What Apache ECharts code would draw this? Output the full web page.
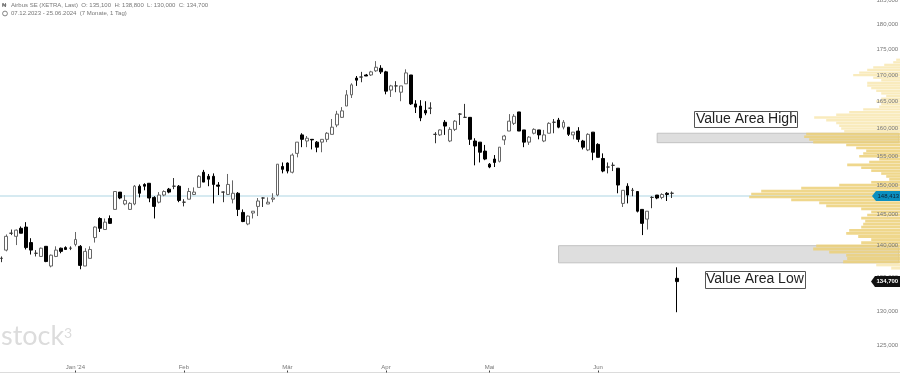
<!DOCTYPE html>
<html><head><meta charset="utf-8">
<style>html,body{margin:0;padding:0;background:#fff}#c{width:900px;height:374px}</style>
<script src="https://cdn.jsdelivr.net/npm/echarts@6/dist/echarts.min.js"></script>
</head><body><div id="c"></div>
<script>
const opens=[138.0,139.3,142.0,141.5,142.8,143.0,140.5,138.8,138.3,139.9,136.8,138.3,139.6,139.7,139.6,140.2,139.9,136.8,138.0,141.3,144.4,142.6,144.4,145.9,148.8,146.8,145.9,146.8,149.8,150.1,150.3,147.9,147.1,148.3,149.3,149.8,149.8,147.1,147.6,148.4,149.6,152.2,151.5,151.5,150.0,148.8,148.4,147.6,148.6,145.4,143.5,145.3,146.4,147.8,146.8,147.6,148.3,153.2,153.8,152.2,155.5,158.8,157.7,158.0,157.5,157.5,158.0,158.9,160.6,162.0,164.1,166.2,169.4,169.6,170.0,170.0,170.8,171.3,170.6,167.1,167.9,166.7,168.3,170.0,164.5,164.1,163.3,163.7,158.9,158.8,161.1,157.7,159.8,162.6,162.0,162.0,157.7,157.5,155.9,153.6,154.5,154.1,157.9,159.5,160.9,163.0,159.7,157.5,159.1,159.7,157.7,159.1,161.1,161.5,160.2,160.2,158.8,159.5,157.7,156.1,159.3,157.1,154.6,153.1,153.4,152.9,146.9,149.8,149.1,148.9,145.9,144.3,147.9,148.3,147.9,148.6,148.6,134.9];
const closes=[138.0,141.5,142.0,142.5,142.0,139.7,139.3,138.8,139.6,137.5,138.5,139.3,139.1,139.4,139.6,141.0,136.9,139.1,139.4,143.0,142.8,143.8,143.6,148.9,147.8,147.4,146.9,149.8,148.6,149.8,147.8,146.4,148.3,148.9,148.8,149.8,147.4,147.1,148.9,148.8,151.5,150.5,151.0,150.1,149.8,148.8,150.1,148.6,145.9,143.9,144.8,145.6,147.3,147.8,147.1,147.8,153.6,152.7,152.4,155.2,157.5,158.0,158.2,157.9,156.6,158.0,159.1,160.2,162.6,163.2,166.2,168.1,169.0,169.6,169.8,170.6,171.5,170.6,166.9,167.9,167.9,167.9,170.4,164.5,163.9,161.9,162.8,163.7,158.9,159.7,160.4,159.8,161.3,162.6,162.0,158.0,156.8,155.7,154.5,153.1,153.9,156.6,158.6,161.3,162.2,159.5,157.5,158.4,159.8,158.8,158.8,160.9,161.1,160.2,161.1,158.9,159.3,158.0,156.6,158.9,155.7,154.8,152.4,153.1,153.4,150.0,149.1,148.3,149.1,145.6,143.6,145.6,147.9,147.8,148.4,148.4,148.6,134.4];
const lows=[137.4,139.1,141.7,140.1,142.0,139.4,138.6,138.3,138.3,137.4,136.6,138.2,138.8,139.4,139.3,139.9,136.3,136.8,138.0,140.5,142.2,142.6,143.5,145.9,147.6,146.6,145.8,146.6,147.9,149.1,147.1,144.4,146.9,148.1,148.6,149.3,147.1,146.4,147.6,148.3,149.6,150.5,149.8,146.9,148.3,147.1,148.3,146.9,144.8,143.8,143.3,144.4,144.8,146.3,146.8,147.1,148.1,152.0,152.0,152.0,154.8,156.6,156.6,156.2,155.7,155.7,157.5,158.9,160.2,161.9,164.1,165.6,167.9,168.6,169.8,169.8,170.6,170.2,166.3,165.8,166.7,165.0,168.3,164.3,162.8,161.3,162.4,162.6,157.3,158.6,158.8,157.5,159.5,160.6,161.9,157.0,153.4,153.9,154.3,152.9,153.1,153.9,157.0,159.5,160.6,159.5,156.6,157.0,158.9,158.0,157.5,159.1,159.1,160.0,159.8,158.6,158.0,157.5,156.2,155.9,154.3,154.8,152.2,152.0,152.4,148.6,146.3,146.9,148.1,145.4,141.7,142.6,146.1,147.6,147.6,147.3,147.8,129.8];
const highs=[138.3,141.8,142.6,142.6,143.1,143.8,141.2,139.3,139.7,139.9,138.6,139.9,139.7,139.9,139.9,142.2,140.1,139.6,139.9,143.1,144.6,144.4,144.9,148.9,148.8,148.3,147.1,150.0,150.1,150.3,150.3,148.1,148.8,149.1,149.5,151.2,150.0,147.6,149.5,149.6,151.7,152.6,151.9,152.0,150.5,148.9,151.9,150.8,148.8,145.9,144.9,145.6,147.8,147.9,147.9,148.6,153.6,153.9,153.9,155.5,157.5,159.1,158.6,158.0,157.7,158.0,159.3,161.7,163.2,163.9,167.1,168.4,169.8,170.6,170.2,170.8,172.7,171.9,170.8,168.1,168.8,167.9,171.1,170.0,165.2,165.2,165.0,164.8,159.3,159.8,161.5,160.2,161.5,162.8,164.5,162.0,158.2,157.5,157.0,153.8,155.2,156.6,158.8,162.6,162.6,163.0,159.7,158.6,160.0,159.7,159.7,161.1,161.7,161.9,161.5,160.2,159.3,160.2,157.9,159.1,159.3,157.3,155.5,153.9,153.9,152.9,149.1,150.3,149.5,148.9,145.9,145.6,148.1,148.3,148.6,148.8,148.9,136.6];

const profileLevels=[173,172.5,172,171.5,171,170.5,170,169.5,169,168.5,168,167.5,167,166.5,166,165.5,165,164.5,164,163.5,163,162.5,162,161.5,161,160.5,160,159.5,159,158.5,158,157.5,157,156.5,156,155.5,155,154.5,154,153.5,153,152.5,152,151.5,151,150.5,150,149.5,149,148.5,148,147.5,147,146.5,146,145.5,145,144.5,144,143.5,143,142.5,142,141.5,141,140.5,140,139.5,139,138.5,138,137.5,137,136.5];
const profileVolumes=[5,8,17,28,34,42,48,28,20,34,34,30,25,20,15,20,25,20,22,38,52,65,87,75,65,62,60,57,95,97,92,88,55,45,35,38,42,22,32,54,40,30,20,15,12,30,62,100,140,150,152,110,82,75,40,30,34,40,36,38,40,52,55,43,30,40,85,88,72,55,54,58,25,10];

const priceTicks=[125,130,135,140,145,150,155,160,165,170,175,180,185];
const monthTicks={15:"Jan '24",37:"Feb",58:"Mär",78:"Apr",99:"Mai",121:"Jun"};
const categoryCount=183;
const categories=Array.from({length:categoryCount},(_,i)=>"T"+i);
const lastMarker=148.15;
const valueAreaHigh=[157.4,159.1];
const valueAreaLow=[137.3,140.0];
const valueArea=[137.3,159.2];
const candles=opens.map((o,i)=>[o,closes[i],lows[i],highs[i]]);

const FONT='"Liberation Sans",Arial,sans-serif';
const chart=echarts.init(document.getElementById('c'),null,{renderer:'canvas'});
const GW=902.2;
const fmt=v=>Number(v).toFixed(3).replace('.',',');
chart.setOption({
 animation:false,
 grid:{left:-1,top:0,width:GW,height:372.5,outerBoundsMode:'none',containLabel:false},
 xAxis:[{type:'category',data:categories,
   axisLine:{show:true,lineStyle:{color:'#dcdcdc'}},
   axisTick:{show:true,alignWithLabel:true,inside:true,length:2,interval:i=>i in monthTicks,lineStyle:{color:'#444'}},
   axisLabel:{inside:true,margin:2.5,fontSize:6,fontFamily:FONT,color:'#777',interval:i=>i in monthTicks,formatter:(v,i)=>monthTicks[i]||''},
   splitLine:{show:false}},
  {type:'value',inverse:true,min:0,max:GW,show:false}],
 yAxis:[{type:'log',min:121.2,max:185.13,position:'right',z:10,
   axisLine:{show:false},axisTick:{show:false},splitLine:{show:false},
   axisLabel:{inside:true,margin:3,fontSize:6,fontFamily:FONT,color:'#777',customValues:priceTicks,formatter:v=>fmt(v)}}],
 series:[
  {type:'custom',name:'Volumenprofil',xAxisIndex:1,yAxisIndex:0,z:5,silent:true,clip:false,
   data:profileLevels.map((l,i)=>[profileVolumes[i],l]),encode:{x:0,y:1},
   renderItem:(p,api)=>{
     const v=api.value(0),l=api.value(1);
     const a=api.coord([0,l+0.25]),b=api.coord([v,l-0.25]);
     const inVA=l>=valueArea[0]&&l<=valueArea[1];
     return {type:'rect',shape:{x:b[0],y:a[1]+0.3,width:a[0]-b[0],height:b[1]-a[1]-0.3},
       style:{fill:inVA?'rgba(236,208,120,0.85)':'rgba(248,232,178,0.85)'}};
   }},
  {type:'candlestick',name:'Airbus SE',data:candles,barWidth:3.3,z:6,
   itemStyle:{color:'#fff',color0:'#000',borderColor:'#666',borderColor0:'#000',borderColorDoji:'#333',borderWidth:1},
   markArea:{silent:true,z:1,itemStyle:{color:'#dedede',borderColor:'#c2c2c2',borderWidth:1},
     data:[[{xAxis:categories[133],yAxis:valueAreaHigh[1]},{xAxis:categories[182],yAxis:valueAreaHigh[0]}],
           [{xAxis:categories[113],yAxis:valueAreaLow[1]},{xAxis:categories[182],yAxis:valueAreaLow[0]}]]},
   markLine:{silent:true,symbol:'none',label:{show:false},lineStyle:{color:'#c8e3ec',type:'solid',width:1.5},data:[{yAxis:lastMarker}]}}
 ],
 graphic:[
  {type:'text',z:100,style:{x:11,y:2.5,text:'Airbus SE (XETRA, Last)  O: 135,100  H: 138,800  L: 130,000  C: 134,700',font:'6px '+FONT,fill:'#777'}},
  {type:'text',z:100,style:{x:11,y:10.5,text:'07.12.2023 - 25.06.2024  (7 Monate, 1 Tag)',font:'6px '+FONT,fill:'#777'}},
  {type:'text',z:100,style:{x:2,y:2,text:'₦',font:'bold 6px '+FONT,fill:'#666'}},
  {type:'circle',z:100,shape:{cx:5,cy:13.5,r:2.4},style:{fill:'none',stroke:'#666',lineWidth:0.8}},
  {type:'text',z:1,style:{x:1,y:323,text:'stock',font:'27px Lato,"Open Sans",sans-serif',fill:'#dcdcdc'}},
  {type:'text',z:1,style:{x:64,y:326,text:'3',font:'14px Lato,"Open Sans",sans-serif',fill:'#dcdcdc'}},
  {type:'rect',z:100,shape:{x:694.5,y:111.5,width:103,height:16},style:{fill:'#fff',stroke:'#555',lineWidth:1}},
  {type:'text',z:101,style:{x:696,y:112,text:'Value Area High',font:'14px '+FONT,fill:'#222'}},
  {type:'rect',z:100,shape:{x:705.5,y:271.5,width:100,height:17},style:{fill:'#fff',stroke:'#555',lineWidth:1}},
  {type:'text',z:101,style:{x:706,y:272.5,text:'Value Area Low',font:'14px '+FONT,fill:'#222'}},
  {type:'polygon',z:100,shape:{points:[[872,196],[876,191],[900,191],[900,201],[876,201]]},style:{fill:'#0a8fbf'}},
  {type:'text',z:101,style:{x:877.5,y:193,text:'148,413',font:'6px '+FONT,fill:'#123'}},
  {type:'polygon',z:100,shape:{points:[[871,281.5],[875,276],[900,276],[900,287],[875,287]]},style:{fill:'#111'}},
  {type:'text',z:101,style:{x:876.5,y:278.5,text:'134,700',font:'bold 6px '+FONT,fill:'#fff'}}
 ]
});
</script></body></html>
